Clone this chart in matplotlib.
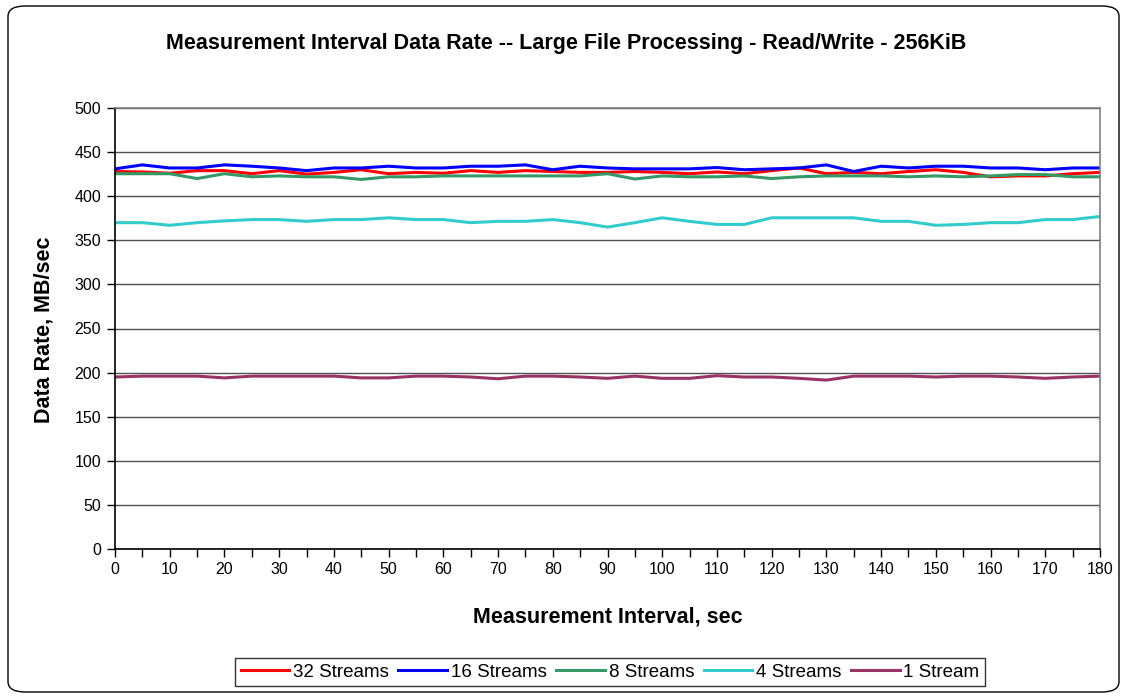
import matplotlib
matplotlib.use('Agg')
import matplotlib.pyplot as plt
from matplotlib.patches import FancyBboxPatch

plt.rcParams['font.family'] = ['Liberation Sans', 'DejaVu Sans']

# --- data ---
interval = list(range(0, 181, 5))

streams_32 = [428, 427.5, 426, 429, 429, 425.5, 429, 425, 427, 430, 425.5, 427, 426,
              429, 427, 429, 428, 427, 427, 428, 427, 425.5, 427.5, 425.5, 429,
              432, 425.5, 427, 425.5, 428, 430, 427, 422, 423, 423, 425.5, 427]
streams_16 = [431, 435.5, 432, 432, 435.5, 434, 432, 429, 432, 432, 434, 432, 432,
              434, 434, 435.5, 430, 434, 432, 431, 431, 431, 432.5, 430, 431,
              432, 435.5, 428, 434, 432, 434, 434, 432, 432, 430, 432, 432]
streams_8 = [425.5, 425.5, 425.5, 420, 425.5, 422, 423, 422, 422, 419, 422, 422, 423,
             423, 423, 423, 423, 423, 425.5, 419.5, 423, 422, 422, 423, 420,
             422, 423, 423, 423, 422, 423, 422, 423, 424.5, 424.5, 422, 422]
streams_4 = [370, 370, 367, 370, 372, 373.5, 373.5, 371.5, 373.5, 373.5, 375.5, 373.5, 373.5,
             370, 371.5, 371.5, 373.5, 370, 365, 370, 375.5, 371.5, 368, 368, 375.5,
             375.5, 375.5, 375.5, 371.5, 371.5, 367, 368, 370, 370, 373.5, 373.5, 377]
stream_1 = [195, 196, 196, 196, 194, 196, 196, 196, 196, 194, 194, 196, 196,
            195, 193, 196, 196, 195, 193.5, 196, 193.5, 193.5, 196.5, 195, 195,
            193.5, 191.5, 196, 196, 196, 195, 196, 196, 195, 193.5, 195, 196]

series = [
    ('32 Streams', streams_32, '#FF0000'),
    ('16 Streams', streams_16, '#0000FF'),
    ('8 Streams', streams_8, '#339966'),
    ('4 Streams', streams_4, '#33CCCC'),
    ('1 Stream', stream_1, '#993366'),
]

W, H = 1127, 698
fig = plt.figure(figsize=(W / 100, H / 100), dpi=100)

# rounded outer frame like the Excel chart area
frame = FancyBboxPatch((8 / W, 6 / H), 1111 / W, 686 / H,
                       boxstyle='round,pad=0,rounding_size=0.015',
                       transform=fig.transFigure, facecolor='none',
                       edgecolor='black', linewidth=1.0, zorder=0)
fig.patches.append(frame)

ax = fig.add_axes([115 / W, 1 - 549 / H, 985 / W, 441 / H])
ax.set_facecolor('white')

for name, vals, col in series:
    ax.plot(interval, vals, color=col, linewidth=2.2, label=name, solid_joinstyle='miter')

ax.set_xlim(0, 180)
ax.set_ylim(0, 500)
ax.set_yticks(range(0, 501, 50))
ax.set_xticks(range(0, 181, 10))
ax.set_xticks(range(0, 181, 5), minor=True)
ax.grid(axis='y', color='#505050', linewidth=1.0)
ax.set_axisbelow(True)

ax.tick_params(axis='both', which='both', direction='out', colors='black',
               labelsize=11.5, width=1)
ax.tick_params(axis='y', length=6, pad=4)
ax.tick_params(axis='x', which='major', length=6, pad=3)
ax.tick_params(axis='x', which='minor', length=6)

ax.spines['left'].set_color('black')
ax.spines['bottom'].set_color('black')
ax.spines['right'].set_color('#808080')
ax.spines['top'].set_color('#808080')
for s in ax.spines.values():
    s.set_linewidth(1.2)

fig.text(566 / W, 1 - 44 / H,
         'Measurement Interval Data Rate -- Large File Processing - Read/Write - 256KiB',
         ha='center', va='center', fontsize=15.5, fontweight='bold')
fig.text(608 / W, 1 - 617 / H, 'Measurement Interval, sec',
         ha='center', va='center', fontsize=15.5, fontweight='bold')
fig.text(44 / W, 1 - 330 / H, 'Data Rate, MB/sec', rotation=90,
         ha='center', va='center', fontsize=15.5, fontweight='bold')

leg = fig.legend(loc='center', bbox_to_anchor=(610 / W, 1 - 672 / H), ncol=5,
                 frameon=True, fancybox=False, fontsize=13.5, handlelength=2.6,
                 handletextpad=0.2, columnspacing=0.5, borderpad=0.3,
                 borderaxespad=0)
leg.get_frame().set_edgecolor('black')
leg.get_frame().set_linewidth(1.0)

fig.savefig('out.png', dpi=100)
